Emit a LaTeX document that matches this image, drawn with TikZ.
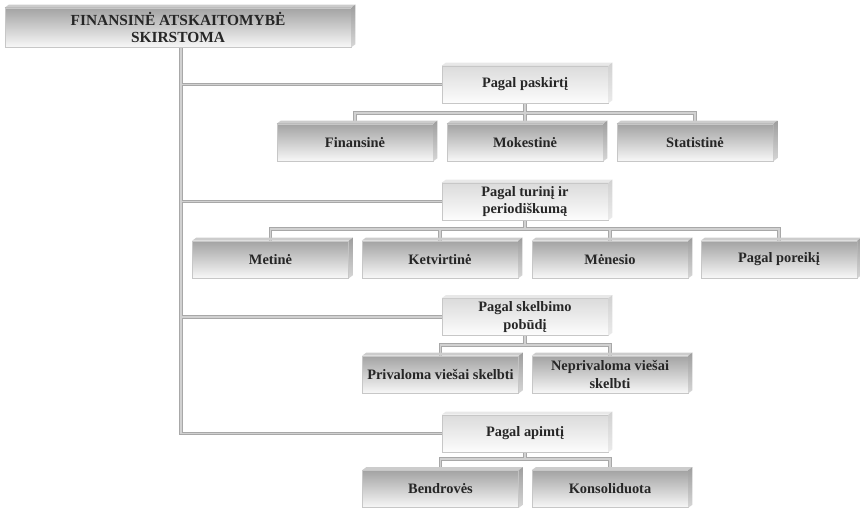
\documentclass[tikz,border=0pt]{standalone}
\usepackage{fontspec}
\setmainfont{Liberation Serif}
\usetikzlibrary{backgrounds}
% front face plus a thin top face and right side face (oblique 3D look)
\newcommand\boxfaces[3]{%
  \fill[#2] (#1.north west) -- ++(4pt,3pt) -- ([shift={(4pt,3pt)}]#1.north east) -- (#1.north east) -- cycle;
  \shade[#3] (#1.north east) -- ++(4pt,3pt) -- ([shift={(4pt,3pt)}]#1.south east) -- (#1.south east) -- cycle;
}
% all connector paths, drawn twice to get a two-tone line with clean joints
\newcommand\connectors[1]{%
  \draw[#1] (root.south -| tb) -- (tb) -- (p4.west);
  \draw[#1] (tb |- p1.west) -- (p1.west);
  \draw[#1] (tb |- p2.west) -- (p2.west);
  \draw[#1] (tb |- p3.west) -- (p3.west);
  % Pagal paskirti
  \draw[#1] (p1.south) -- (p1.south |- b1);
  \draw[#1] (fin.north) -- (fin.north |- b1) -- (sta.north |- b1) -- (sta.north);
  \draw[#1] (mok.north) -- (mok.north |- b1);
  % Pagal turini ir periodiskuma
  \draw[#1] (p2.south) -- (p2.south |- b2);
  \draw[#1] (met.north) -- (met.north |- b2) -- (por.north |- b2) -- (por.north);
  \draw[#1] (ket.north) -- (ket.north |- b2);
  \draw[#1] (men.north) -- (men.north |- b2);
  % Pagal skelbimo pobudi
  \draw[#1] (p3.south) -- (p3.south |- b3);
  \draw[#1] (pri.north) -- (pri.north |- b3) -- (nep.north |- b3) -- (nep.north);
  % Pagal apimti
  \draw[#1] (p4.south) -- (p4.south |- b4);
  \draw[#1] (ben.north) -- (ben.north |- b4) -- (kon.north |- b4) -- (kon.north);
}
\begin{document}
\begin{tikzpicture}[x=1pt,y=-1pt,
  txt/.style={font=\fontsize{14.4}{17.5}\selectfont\bfseries, text=black!85,
    align=center, inner sep=1pt},
  front/.style={txt, draw=black!22, line width=0.6pt, minimum width=#1,
    minimum height=37pt},
  leaf/.style={front=156pt, top color=black!36, bottom color=black!3},
  cat/.style={front=166pt, top color=black!14, bottom color=black!1},
  rootbox/.style={front=346pt, minimum height=39pt, top color=black!36,
    bottom color=black!3, font=\fontsize{15.4}{17.5}\selectfont\bfseries},
  leaftop/.style={fill=black!20},
  leafside/.style={top color=black!38, bottom color=black!16},
  cattop/.style={fill=black!9},
  catside/.style={top color=black!18, bottom color=black!8},
  linkouter/.style={draw=black!34, line width=3.4pt},
  linkinner/.style={draw=black!18, line width=1.2pt},
]
\useasboundingbox (0,0) rectangle (860,508);

% root
\node[rootbox] (root) at (178,27.5) {FINANSINĖ ATSKAITOMYBĖ\\SKIRSTOMA};

% categories
\node[cat] (p1) at (525,84.5) {Pagal paskirtį};
\node[cat] (p2) at (525,201.5) {Pagal turinį ir\\periodiškumą};
\node[cat] (p3) at (525,317) {Pagal skelbimo\\pobūdį};
\node[cat] (p4) at (525,433.5) {Pagal apimtį};

% leaves
\node[leaf] (fin) at (355,142.5) {Finansinė};
\node[leaf] (mok) at (525,142.5) {Mokestinė};
\node[leaf] (sta) at (695,142.5) {Statistinė};

\node[leaf] (met) at (270.5,259.5) {Metinė};
\node[leaf] (ket) at (440,259.5) {Ketvirtinė};
\node[leaf] (men) at (610,259.5) {Mėnesio};
\node[leaf] (por) at (779,259.5) {Pagal poreikį};

\node[leaf] (pri) at (440.5,374.5) {Privaloma viešai skelbti};
\node[leaf] (nep) at (610,374.5) {Neprivaloma viešai\\skelbti};

\node[leaf] (ben) at (440.5,489) {Bendrovės};
\node[leaf] (kon) at (610,489) {Konsoliduota};

% 3D faces
\boxfaces{root}{leaftop}{leafside}
\foreach \n in {p1,p2,p3,p4} {\boxfaces{\n}{cattop}{catside}}
\foreach \n in {fin,mok,sta,met,ket,men,por,pri,nep,ben,kon} {\boxfaces{\n}{leaftop}{leafside}}

% trunk and bus levels
\coordinate (tb) at (181,433.5);
\coordinate (b1) at (0,113);
\coordinate (b2) at (0,229);
\coordinate (b3) at (0,345);
\coordinate (b4) at (0,459);

\begin{scope}[on background layer]
  \connectors{linkouter}
  \connectors{linkinner}
\end{scope}
\end{tikzpicture}
\end{document}
